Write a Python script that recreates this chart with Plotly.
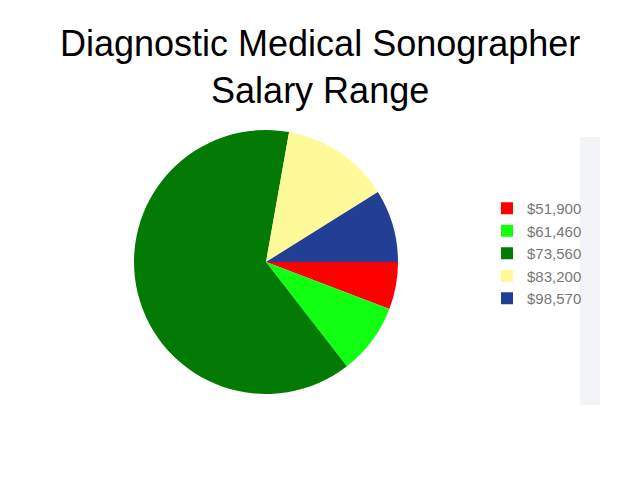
import plotly.graph_objects as go

# Data (slice shares; labels from legend)
labels = ["$51,900", "$61,460", "$73,560", "$83,200", "$98,570"]
shares = [5.8, 8.7, 63.3, 13.3, 8.9]
colors = ["#ff0000", "#11ff11", "#037a03", "#fffa99", "#223f95"]

W, H = 638, 479
# page body has an 8px margin, so figure coords = page coords - 8
cx, cy, r = 258, 254, 132

fig = go.Figure(go.Pie(
    labels=labels,
    values=shares,
    sort=False,
    direction="clockwise",
    rotation=90,
    textinfo="none",
    hoverinfo="label+percent",
    marker=dict(colors=colors, line=dict(width=0)),
    domain=dict(x=[(cx - r) / W, (cx + r) / W],
                y=[1 - (cy + r) / H, 1 - (cy - r) / H]),
))

fig.update_layout(
    width=W, height=H,
    margin=dict(l=0, r=0, t=0, b=0),
    paper_bgcolor="white",
    plot_bgcolor="white",
    showlegend=True,
    legend=dict(
        x=479 / W, y=1 - 184 / H, xanchor="left", yanchor="top",
        font=dict(family="Liberation Sans, Arial, sans-serif", size=15, color="#777777"),
        bgcolor="rgba(0,0,0,0)",
        itemclick=False,
    ),
    annotations=[dict(
        text="Diagnostic Medical Sonographer<br>Salary Range",
        x=312 / W, y=1 - 13 / H, xref="paper", yref="paper",
        xanchor="center", yanchor="top", showarrow=False,
        font=dict(family="Liberation Sans, Arial, sans-serif", size=36, color="#000000"),
    )],
    shapes=[dict(
        type="rect", xref="paper", yref="paper",
        x0=572 / W, x1=592 / W, y0=1 - 397 / H, y1=1 - 129 / H,
        fillcolor="#f3f4f8", line=dict(width=0), layer="below",
    )],
)

fig.write_html("out.html")
